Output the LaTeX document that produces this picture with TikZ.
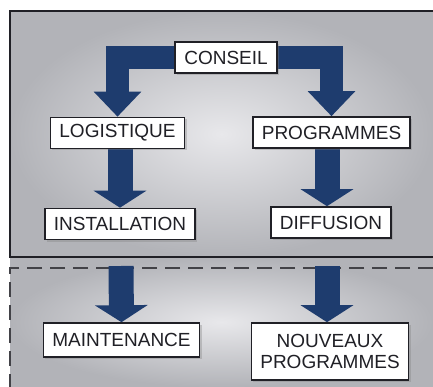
\documentclass[tikz,border=0pt]{standalone}
\usepackage{fontspec}
\setmainfont{Liberation Sans}
\usetikzlibrary{arrows.meta,shadows}
\definecolor{metal}{RGB}{178,179,184}
\definecolor{shine}{RGB}{232,232,235}
\definecolor{navy}{RGB}{30,60,110}
\definecolor{ink}{RGB}{32,32,38}
\pgfdeclarelayer{back}
\pgfdeclarelayer{mid}
\pgfsetlayers{back,mid,main}
\tikzset{
  box/.style={draw=ink, line width=1.6pt, fill=white, text=ink,
    inner xsep=9pt, minimum height=31pt, align=center,
    font=\fontsize{19}{21}\selectfont,
    drop shadow={shadow xshift=2pt, shadow yshift=-2pt, opacity=.35}},
  flowtop/.style={draw=navy, line width=23pt, line join=miter,
    -{Triangle[length=25pt,width=46pt]}},
  flow/.style={draw=navy, line width=25pt,
    -{Triangle[length=17pt,width=52pt]}},
  glow/.style={inner color=shine, outer color=metal},
}
\begin{document}
\begin{tikzpicture}[x=1pt,y=-1pt]
  \useasboundingbox (0,0) rectangle (433,387);
  \begin{pgfonlayer}{back}
    \shade[glow] (10,11) rectangle (433,257);
    \shade[glow] (10,257) rectangle (433,387);
    \draw[ink, line width=2.5pt] (433,11) -| (10,257) -- (433,257);
    \draw[ink!85, line width=2pt, dash pattern=on 15pt off 8pt]
      (433,268) -| (10,387);
  \end{pgfonlayer}
  \node[box] (conseil) at (226,57.5) {CONSEIL};
  \node[box] (logistique) at (117.5,133) {LOGISTIQUE};
  \node[box] (programmes) at (331.5,132.5) {PROGRAMMES};
  \node[box] (installation) at (120,224) {INSTALLATION};
  \node[box] (diffusion) at (331,222.5) {DIFFUSION};
  \node[box, minimum height=34pt] (maintenance) at (121.5,340) {MAINTENANCE};
  \node[box, minimum height=57pt] (nouveaux) at (330,351.5) {NOUVEAUX\\PROGRAMMES};
  \coordinate (cutl) at (121,266);
  \coordinate (cutr) at (327,266);
  \begin{pgfonlayer}{mid}
    \draw[flowtop] (conseil.west) -| (logistique.north);
    \draw[flowtop] (conseil.east) -| (programmes.north);
    \draw[flow] (installation.north |- logistique.south) -- (installation.north);
    \draw[flow] ([xshift=-4pt]diffusion.north |- programmes.south) -- ([xshift=-4pt]diffusion.north);
    \draw[flow] (cutl) -- (maintenance.north);
    \draw[flow] (cutr) -- (nouveaux.north -| cutr);
  \end{pgfonlayer}
\end{tikzpicture}
\end{document}
